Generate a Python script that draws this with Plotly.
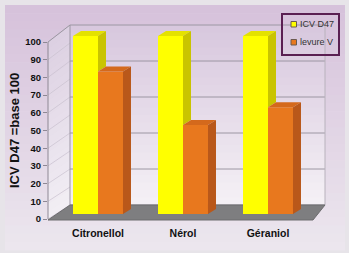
import plotly.graph_objects as go

# ---------------- data ----------------
CATEGORIES = ["Citronellol", "Nérol", "Géraniol"]
ICV_D47 = [100, 100, 100]
LEVURE_V = [80, 50, 60]
SERIES_NAMES = ["ICV D47", "levure V"]
Y_TICKS = list(range(0, 101, 10))
GRID_VALUES = [0, 20, 40, 60, 80, 100]

# ---------------- style / geometry (pixels) ----------------
W, H = 349, 253
PL, PR, PT, PB = 48, 327, 25, 222          # plot area
CAT_PX, CAT0_PX = 85.0, 98.0               # px per category, px of category 0
BAR_ZERO, BAR_PPU = 214.0, 1.78            # bar scale
FRONT_ZERO, FRONT_PPU = 219.0, 1.77        # front (label) scale
BACK_ZERO, BACK_PPU = 205.0, 1.80          # back wall scale
WALL_L, WALL_R = 70.0, 325.0               # back wall x extent
FLOOR_FRONT_R = 313.0
BARGAP = 0.412
BAR_W = (1 - BARGAP) / 2
DDX = 8 / CAT_PX
DDY = 5 / BAR_PPU

YELLOW = dict(front="#FFFF00", top="#E4E200", side="#C9C400")
ORANGE = dict(front="#E8781E", top="#D4691C", side="#B9581A")
GRID_COL = "#9C96A2"
FONT = "Liberation Sans, Arial, sans-serif"


def px_x(p):
    return (p - PL) / (PR - PL)


def px_y(p):
    return (PB - p) / (PB - PT)


def front_px(v):
    return FRONT_ZERO - FRONT_PPU * v


def back_px(v):
    return BACK_ZERO - BACK_PPU * v


def mix(c1, c2, t):
    a = [int(c1[i:i + 2], 16) for i in (1, 3, 5)]
    b = [int(c2[i:i + 2], 16) for i in (1, 3, 5)]
    return "#%02X%02X%02X" % tuple(round(a[k] + (b[k] - a[k]) * t) for k in range(3))


def poly(points):
    return "M " + " L ".join(f"{px_x(x):.5f},{px_y(y):.5f}" for x, y in points) + " Z"


shapes = []
# outer lavender panel with a vertical gradient
N = 30
top_y, bot_y = 5.0, 250.0
for i in range(N):
    y0 = top_y + (bot_y - top_y) * i / N
    y1 = top_y + (bot_y - top_y) * (i + 1) / N + 0.6
    shapes.append(dict(type="rect", xref="paper", yref="paper", layer="below",
                       x0=px_x(5), x1=px_x(345), y0=px_y(y1), y1=px_y(y0),
                       fillcolor=mix("#D6C2DB", "#ECE6EE", i / (N - 1)), line=dict(width=0)))

# back wall gradient
NB = 24
for i in range(NB):
    v0 = 100 * i / NB
    v1 = 100 * (i + 1) / NB
    shapes.append(dict(type="rect", xref="paper", yref="paper", layer="below",
                       x0=px_x(WALL_L), x1=px_x(WALL_R),
                       y0=px_y(back_px(v0)), y1=px_y(back_px(v1) - 0.6),
                       fillcolor=mix("#F4F0F5", "#D8C8DE", i / (NB - 1)), line=dict(width=0)))
    # left wall slice (parallelogram)
    shapes.append(dict(type="path", xref="paper", yref="paper", layer="below",
                       path=poly([(PL, front_px(v0)), (WALL_L, back_px(v0)),
                                  (WALL_L, back_px(v1) - 0.6), (PL, front_px(v1) - 0.6)]),
                       fillcolor=mix("#F2EEF4", "#DCD0E2", i / (NB - 1)), line=dict(width=0)))

# grid lines (back wall + diagonals on left wall)
for v in GRID_VALUES:
    shapes.append(dict(type="line", xref="paper", yref="paper", layer="below",
                       x0=px_x(WALL_L), x1=px_x(WALL_R), y0=px_y(back_px(v)), y1=px_y(back_px(v)),
                       line=dict(color=GRID_COL, width=1)))
for v in Y_TICKS:
    shapes.append(dict(type="line", xref="paper", yref="paper", layer="below",
                       x0=px_x(PL), x1=px_x(WALL_L), y0=px_y(front_px(v)), y1=px_y(back_px(v)),
                       line=dict(color="#C9C0CE", width=0.7)))
# wall edges
shapes.append(dict(type="line", xref="paper", yref="paper", layer="below",
                   x0=px_x(WALL_L), x1=px_x(WALL_L), y0=px_y(back_px(0)), y1=px_y(back_px(100)),
                   line=dict(color=GRID_COL, width=1)))
shapes.append(dict(type="line", xref="paper", yref="paper", layer="below",
                   x0=px_x(WALL_R), x1=px_x(WALL_R), y0=px_y(back_px(0)), y1=px_y(back_px(100)),
                   line=dict(color="#B8B2BC", width=1)))
shapes.append(dict(type="line", xref="paper", yref="paper", layer="below",
                   x0=px_x(PL), x1=px_x(PL), y0=px_y(front_px(0)), y1=px_y(front_px(100)),
                   line=dict(color="#8E8894", width=1)))
shapes.append(dict(type="line", xref="paper", yref="paper", layer="below",
                   x0=px_x(PL), x1=px_x(WALL_L), y0=px_y(front_px(100)), y1=px_y(back_px(100)),
                   line=dict(color=GRID_COL, width=1)))
# floor
shapes.append(dict(type="path", xref="paper", yref="paper", layer="below",
                   path=poly([(PL, front_px(0) + 1), (FLOOR_FRONT_R, front_px(0) + 1),
                              (WALL_R, back_px(0)), (WALL_L, back_px(0))]),
                   fillcolor="#7E7E80", line=dict(color="#6C6C6E", width=1)))

fig = go.Figure()

x_idx = list(range(len(CATEGORIES)))
fig.add_trace(go.Bar(x=x_idx, y=ICV_D47, name=SERIES_NAMES[0], width=BAR_W, offset=-BAR_W,
                     marker=dict(color=YELLOW["front"], line=dict(width=0)), showlegend=False,
                     xaxis="x", yaxis="y"))
fig.add_trace(go.Bar(x=x_idx, y=LEVURE_V, name=SERIES_NAMES[1], width=BAR_W, offset=0,
                     marker=dict(color=ORANGE["front"], line=dict(width=0)), showlegend=False,
                     xaxis="x", yaxis="y"))


def face(xs, ys, color):
    fig.add_trace(go.Scatter(x=xs + [xs[0]], y=ys + [ys[0]], mode="lines", fill="toself",
                             fillcolor=color, line=dict(width=0, color=color),
                             hoverinfo="skip", showlegend=False, xaxis="x", yaxis="y"))


for i, (vy, vo) in enumerate(zip(ICV_D47, LEVURE_V)):
    # yellow bar: left edge i-BAR_W, right edge i
    l, r = i - BAR_W, i
    face([l, l + DDX, r + DDX, r], [vy, vy + DDY, vy + DDY, vy], YELLOW["top"])
    face([r, r + DDX, r + DDX, r], [vo, vo + DDY, vy + DDY, vy], YELLOW["side"])
    # orange bar: left edge i, right edge i+BAR_W
    l, r = i, i + BAR_W
    face([l, l + DDX, r + DDX, r], [vo, vo + DDY, vo + DDY, vo], ORANGE["top"])
    face([r, r + DDX, r + DDX, r], [0, DDY, vo + DDY, vo], ORANGE["side"])

# ---------------- custom legend ----------------
LEG_L, LEG_R, LEG_T, LEG_B = 282, 339, 14, 55
shapes.append(dict(type="rect", xref="paper", yref="paper", layer="above",
                   x0=px_x(LEG_L), x1=px_x(LEG_R), y0=px_y(LEG_B), y1=px_y(LEG_T),
                   line=dict(color="#5A1F52", width=2), fillcolor="rgba(0,0,0,0)"))
annotations = []
for k, (name, col) in enumerate(zip(SERIES_NAMES, [YELLOW["front"], ORANGE["front"]])):
    cy = 24 + 18 * k
    shapes.append(dict(type="rect", xref="paper", yref="paper", layer="above",
                       x0=px_x(291), x1=px_x(296.5), y0=px_y(cy + 3), y1=px_y(cy - 2.5),
                       fillcolor=col, line=dict(color="#6B5A50", width=1)))
    annotations.append(dict(text=name, xref="paper", yref="paper", x=px_x(298), y=px_y(cy),
                            xanchor="left", yanchor="middle", showarrow=False,
                            font=dict(family=FONT, size=9, color="#333333")))

annotations.append(dict(text="ICV D47 =base 100", xref="paper", yref="paper",
                        x=px_x(14), y=px_y(131), textangle=-90, showarrow=False,
                        xanchor="center", yanchor="middle",
                        font=dict(family=FONT, size=13, color="#111111", weight="bold")))

fig.update_layout(
    width=W, height=H, autosize=False,
    margin=dict(l=PL, r=W - PR, t=PT, b=H - PB, pad=0),
    paper_bgcolor="#E7E4E9", plot_bgcolor="rgba(0,0,0,0)",
    showlegend=False, barmode="overlay",
    shapes=shapes, annotations=annotations,
    xaxis=dict(range=[(PL - CAT0_PX) / CAT_PX, (PR - CAT0_PX) / CAT_PX],
               tickvals=x_idx, ticktext=CATEGORIES, showgrid=False, zeroline=False,
               showline=False, ticks="", fixedrange=True, ticklabelstandoff=3,
               tickfont=dict(family=FONT, size=10.5, color="#111111", weight="bold")),
    yaxis=dict(range=[(BAR_ZERO - PB) / BAR_PPU, (BAR_ZERO - PT) / BAR_PPU],
               showgrid=False, zeroline=False, showticklabels=False, ticks="", fixedrange=True),
    yaxis2=dict(range=[(FRONT_ZERO - PB) / FRONT_PPU, (FRONT_ZERO - PT) / FRONT_PPU],
                overlaying="y", anchor="x", side="left", tickvals=Y_TICKS,
                ticks="outside", ticklen=4, tickcolor="#8E8894", showgrid=False,
                zeroline=False, showline=False, fixedrange=True,
                tickfont=dict(family=FONT, size=9.5, color="#111111", weight="bold")),
)
# invisible helper trace so that the front (label) axis is rendered
fig.add_trace(go.Scatter(x=[0], y=[0], yaxis="y2", xaxis="x", mode="markers",
                         marker=dict(opacity=0), hoverinfo="skip", showlegend=False))

fig.write_html("out.html", config={"displayModeBar": False},
               post_script="document.body.style.margin='0';document.body.style.overflow='hidden';")
